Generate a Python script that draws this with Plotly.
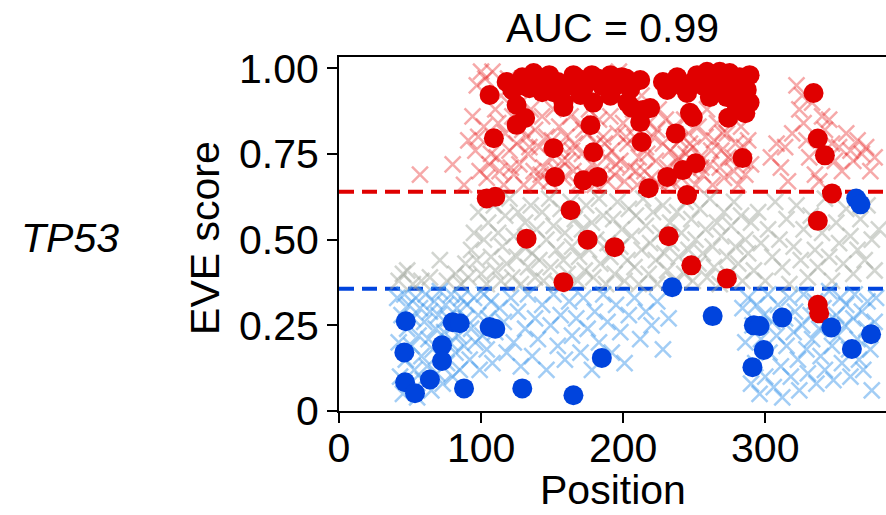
import plotly.graph_objects as go

# ---------------- data ----------------
# EVE thresholds
pathogenic_threshold = 0.64
benign_threshold = 0.357

# EVE predicted variants (crosses), pathogenic class
path_x = [57, 80, 88, 91, 94, 96, 97, 99, 100,
          102, 103, 104, 107, 108, 110, 111, 113, 114, 116, 117, 119, 120, 122, 123, 125, 127, 128, 130, 132, 133, 135, 137, 138, 140,
          141, 143, 144, 146, 148, 149, 151, 153, 155, 156, 158, 160, 161, 163, 165, 166, 168, 170, 171, 173, 175, 176, 178, 180, 181, 183, 185, 186, 188, 189,
          191, 192, 194, 196, 197, 198, 200, 201, 203, 205, 207, 208, 210, 211, 213, 215, 216, 218, 220, 221, 223, 225, 226, 228, 230, 231, 233, 235, 236, 238, 240,
          241, 243, 244, 246, 248, 249, 251, 253, 254, 256, 258, 259, 261, 263, 264, 266, 268, 269, 271, 273, 274, 276, 278, 279, 281, 283, 284, 286, 288, 290,
          304, 308, 311, 314, 316, 319, 322, 324, 326, 327, 329, 331, 333, 335, 338, 340, 342, 345, 347, 349, 352, 354, 357, 360, 362, 365, 368, 371, 374, 377,
          98, 106, 112, 121, 129, 134, 142, 150, 157, 164, 172, 179, 187, 195, 202, 209, 217, 224, 232, 239, 247, 255, 262, 270, 277, 285]
path_y = [0.69, 0.72, 0.66, 0.79, 0.86, 0.76, 0.95, 0.70, 0.99,
          0.83, 0.97, 0.68, 0.75, 0.99, 0.88, 0.74, 0.70, 0.92, 0.66, 0.81, 0.97, 0.76, 0.86, 0.69, 0.78, 0.72, 0.90, 0.66, 0.80, 0.75, 0.88, 0.70, 0.82, 0.67,
          0.77, 0.86, 0.71, 0.80, 0.67, 0.74, 0.88, 0.70, 0.83, 0.77, 0.68, 0.80, 0.73, 0.86, 0.70, 0.78, 0.66, 0.84, 0.75, 0.69, 0.81, 0.88, 0.72, 0.66, 0.78, 0.85, 0.70, 0.80, 0.74, 0.67,
          0.86, 0.76, 0.69, 0.81, 0.99, 0.73, 0.84, 0.67, 0.78, 0.71, 0.88, 0.80, 0.66, 0.74, 0.92, 0.70, 0.77, 0.84, 0.68, 0.80, 0.73, 0.88, 0.66, 0.78, 0.85, 0.71, 0.76, 0.67, 0.83, 0.73, 0.79,
          0.68, 0.85, 0.75, 0.81, 0.70, 0.77, 0.66, 0.83, 0.74, 0.69, 0.80, 0.88, 0.72, 0.66, 0.79, 0.84, 0.71, 0.76, 0.68, 0.81, 0.74, 0.88, 0.70, 0.78, 0.66, 0.83, 0.73, 0.69, 0.79, 0.72,
          0.74, 0.78, 0.71, 0.77, 0.67, 0.81, 0.95, 0.88, 0.92, 0.84, 0.79, 0.74, 0.90, 0.69, 0.67, 0.86, 0.82, 0.85, 0.78, 0.73, 0.77, 0.70, 0.81, 0.76, 0.73, 0.79, 0.75, 0.77, 0.70, 0.74,
          0.80, 0.72, 0.84, 0.71, 0.82, 0.77, 0.69, 0.79, 0.73, 0.76, 0.82, 0.68, 0.78, 0.72, 0.80, 0.70, 0.75, 0.82, 0.67, 0.74, 0.78, 0.71, 0.76, 0.81, 0.74, 0.77]

# EVE predicted variants (crosses), uncertain class
unc_x = [42, 45, 48, 52, 58, 64, 71, 76, 82, 86, 89,
         91, 93, 95, 97, 98, 100, 102, 104, 105, 107, 109, 110, 112, 114, 115, 117, 118, 120, 122, 123, 125, 126, 128, 130, 131, 133, 135, 136, 138, 139,
         141, 143, 144, 146, 148, 149, 151, 153, 154, 156, 158, 159, 161, 163, 164, 166, 168, 169, 171, 173, 174, 176, 178, 179, 181, 183, 184, 186, 188, 189,
         191, 193, 194, 196, 198, 199, 201, 203, 204, 206, 208, 209, 211, 213, 214, 216, 218, 219, 221, 223, 224, 226, 228, 229, 231, 233, 234, 236, 238, 239,
         241, 243, 244, 246, 248, 249, 251, 253, 254, 256, 258, 259, 261, 263, 264, 266, 268, 269, 271, 273, 274, 276, 278, 279, 281, 283, 284, 286, 288, 290,
         292, 295, 297, 300, 302, 305, 307, 310, 312, 315, 317, 320, 322, 325, 327, 330, 332, 335, 337, 340, 342, 345, 347, 350, 352, 355, 357, 360, 362, 365, 367, 370, 372, 375, 377, 380]
unc_y = [0.38, 0.40, 0.41, 0.37, 0.38, 0.39, 0.44, 0.38, 0.40, 0.37, 0.43,
         0.39, 0.47, 0.52, 0.44, 0.58, 0.40, 0.50, 0.37, 0.55, 0.45, 0.60, 0.41, 0.52, 0.38, 0.48, 0.57, 0.43, 0.62, 0.39, 0.51, 0.45, 0.58, 0.37, 0.48, 0.55, 0.42, 0.60, 0.46, 0.39, 0.53,
         0.44, 0.58, 0.38, 0.50, 0.62, 0.42, 0.54, 0.47, 0.37, 0.59, 0.44, 0.52, 0.40, 0.61, 0.48, 0.56, 0.38, 0.45, 0.53, 0.41, 0.60, 0.47, 0.55, 0.39, 0.50, 0.62, 0.43, 0.57, 0.37, 0.49,
         0.45, 0.56, 0.40, 0.61, 0.48, 0.53, 0.38, 0.44, 0.59, 0.51, 0.42, 0.57, 0.37, 0.47, 0.62, 0.54, 0.40, 0.49, 0.58, 0.44, 0.37, 0.52, 0.60, 0.46, 0.41, 0.55, 0.49, 0.38, 0.58, 0.45,
         0.52, 0.40, 0.61, 0.47, 0.56, 0.38, 0.50, 0.43, 0.59, 0.46, 0.53, 0.39, 0.62, 0.48, 0.42, 0.55, 0.37, 0.51, 0.58, 0.45, 0.40, 0.54, 0.61, 0.48, 0.43, 0.57, 0.38, 0.50, 0.46, 0.55,
         0.41, 0.58, 0.49, 0.38, 0.53, 0.45, 0.61, 0.50, 0.42, 0.56, 0.37, 0.48, 0.60, 0.44, 0.53, 0.39, 0.57, 0.47, 0.42, 0.52, 0.62, 0.45, 0.38, 0.55, 0.49, 0.43, 0.59, 0.51, 0.40, 0.47, 0.56, 0.44, 0.60, 0.50, 0.41, 0.53]

# EVE predicted variants (crosses), benign class
ben_x = [41, 42, 43, 44, 45, 46, 47, 48, 49, 50, 51, 52, 53, 54, 55, 56, 57, 58, 59, 60, 61, 62, 63, 64, 65, 66, 67, 68, 69, 70,
         71, 72, 73, 74, 75, 76, 77, 78, 79, 80, 81, 82, 83, 84, 85, 86, 88, 89, 90, 92, 93, 95, 96, 98, 99, 101, 102, 104, 105, 107, 108, 110,
         113, 116, 118, 121, 123, 126, 128, 131, 133, 136, 138, 140, 143, 146, 149, 151, 154, 156, 159, 162, 164, 167, 170, 172, 175, 178, 180, 183, 186, 189, 192, 195, 198, 201, 204, 208, 212, 216, 220, 224, 228, 232,
         284, 286, 288, 290, 291, 293, 294, 296, 297, 299, 300, 302, 303, 305, 306, 308, 309, 311, 312, 314, 315, 317, 318, 320, 321, 323, 324, 326, 327, 329, 330,
         332, 333, 335, 336, 338, 339, 341, 342, 344, 345, 347, 348, 350, 351, 353, 354, 356, 357, 359, 360, 362, 363, 365, 366, 368, 369, 371, 372, 374, 375, 377, 378]
ben_y = [0.33, 0.20, 0.10, 0.28, 0.05, 0.34, 0.15, 0.24, 0.31, 0.08, 0.19, 0.27, 0.12, 0.33, 0.04, 0.22, 0.30, 0.16, 0.09, 0.26, 0.34, 0.13, 0.21, 0.29, 0.06, 0.18, 0.32, 0.24, 0.11, 0.28,
         0.35, 0.17, 0.08, 0.23, 0.31, 0.14, 0.27, 0.20, 0.34, 0.10, 0.25, 0.17, 0.30, 0.22, 0.12, 0.33, 0.19, 0.27, 0.31, 0.15, 0.24, 0.33, 0.20, 0.28, 0.12, 0.22, 0.34, 0.18, 0.27, 0.32, 0.14, 0.23,
         0.30, 0.26, 0.17, 0.33, 0.20, 0.29, 0.13, 0.24, 0.34, 0.16, 0.27, 0.21, 0.31, 0.12, 0.25, 0.34, 0.19, 0.28, 0.15, 0.32, 0.22, 0.27, 0.17, 0.33, 0.24, 0.12, 0.29, 0.20, 0.34, 0.26, 0.17, 0.31, 0.23, 0.14, 0.28, 0.33, 0.21, 0.29, 0.25, 0.32, 0.18, 0.27,
         0.30, 0.20, 0.33, 0.08, 0.25, 0.14, 0.31, 0.05, 0.21, 0.28, 0.10, 0.34, 0.17, 0.26, 0.07, 0.22, 0.31, 0.13, 0.04, 0.27, 0.19, 0.33, 0.10, 0.23, 0.29, 0.15, 0.06, 0.25, 0.34, 0.18, 0.11,
         0.28, 0.21, 0.32, 0.08, 0.24, 0.16, 0.30, 0.12, 0.26, 0.35, 0.19, 0.09, 0.28, 0.22, 0.33, 0.14, 0.25, 0.31, 0.18, 0.10, 0.27, 0.34, 0.21, 0.15, 0.29, 0.12, 0.24, 0.32, 0.18, 0.06, 0.26, 0.33]

# ClinVar labelled pathogenic variants (red dots)
clin_path_x = [106, 109, 125, 125, 131, 151, 152, 104, 110, 132, 158, 177, 179, 172, 182, 163, 175, 194, 158,
               212, 219, 212, 213, 237, 218, 231, 242, 251, 245, 249, 274, 286, 284, 247,
               232, 248, 273, 334, 337, 342, 347, 337, 337, 338,
               122, 129, 137, 134, 146, 151, 154, 165, 175, 182, 158, 170, 179,
               191, 199, 191, 203, 206, 214,
               238, 252, 263, 275, 282, 287, 231, 245, 261, 273, 282, 270,
               118, 127, 140, 143, 148, 161, 168, 172, 178, 185, 195, 202, 205,
               228, 235, 241, 249, 256, 259, 266, 268, 278, 285, 289, 280, 289]
clin_path_y = [0.922, 0.796, 0.893, 0.835, 0.855, 0.767, 0.683, 0.62, 0.625, 0.503, 0.887, 0.834, 0.755, 0.673, 0.683, 0.586, 0.50, 0.478, 0.376,
               0.966, 0.884, 0.843, 0.785, 0.81, 0.65, 0.683, 0.703, 0.723, 0.63, 0.858, 0.856, 0.869, 0.738, 0.87,
               0.51, 0.425, 0.387, 0.928, 0.795, 0.746, 0.635, 0.555, 0.31, 0.285,
               0.937, 0.974, 0.986, 0.942, 0.966, 0.93, 0.96, 0.98, 0.96, 0.97, 0.90, 0.922, 0.90,
               0.98, 0.974, 0.92, 0.90, 0.885, 0.878,
               0.974, 0.98, 0.974, 0.986, 0.974, 0.937, 0.937, 0.928, 0.916, 0.916, 0.907, 0.98,
               0.96, 0.95, 0.96, 0.93, 0.98, 0.95, 0.97, 0.94, 0.98, 0.95, 0.95, 0.97, 0.94,
               0.96, 0.955, 0.95, 0.96, 0.95, 0.99, 0.95, 0.99, 0.95, 0.96, 0.98, 0.89, 0.90]

# ClinVar labelled benign variants (blue dots)
clin_ben_x = [47, 80, 85, 106, 110, 46, 72.5, 72.5, 46.5, 53.5, 64, 88, 129, 165, 185,
              234.5, 263, 292, 296, 312, 299, 291, 346.5, 361, 374.5, 364, 367]
clin_ben_y = [0.262, 0.259, 0.256, 0.245, 0.24, 0.171, 0.192, 0.146, 0.084, 0.052, 0.092, 0.066, 0.066, 0.046, 0.155,
              0.361, 0.277, 0.25, 0.248, 0.273, 0.178, 0.128, 0.244, 0.181, 0.224, 0.62, 0.603]

y_tick_vals = [0, 0.25, 0.5, 0.75, 1.0]
y_tick_text = ["0", "0.25", "0.50", "0.75", "1.00"]
x_tick_vals = [0, 100, 200, 300]
title_text = "AUC = 0.99"
gene_name = "TP53"

# ---------------- figure ----------------
FONT = "Liberation Sans, Arial, Helvetica, sans-serif"
FS = 41
RED = "#E00000"
BLUE = "#0044DD"

fig = go.Figure()

def cross_trace(xs, ys, rgba):
    return go.Scatter(
        x=xs, y=ys, mode="markers", hoverinfo="skip",
        marker=dict(symbol="x-thin", size=16, color=rgba,
                    line=dict(width=2.5, color=rgba)),
        showlegend=False,
    )

fig.add_trace(cross_trace(path_x, path_y, "rgba(232,40,40,0.40)"))
fig.add_trace(cross_trace(unc_x, unc_y, "rgba(165,172,162,0.50)"))
fig.add_trace(cross_trace(ben_x, ben_y, "rgba(70,155,235,0.50)"))

fig.add_trace(go.Scatter(x=clin_path_x, y=clin_path_y, mode="markers",
                         marker=dict(symbol="circle", size=20, color=RED, line=dict(width=0)),
                         showlegend=False))
fig.add_trace(go.Scatter(x=clin_ben_x, y=clin_ben_y, mode="markers",
                         marker=dict(symbol="circle", size=20, color=BLUE, line=dict(width=0)),
                         showlegend=False))

fig.add_shape(type="line", xref="paper", x0=0, x1=1, yref="y",
              y0=pathogenic_threshold, y1=pathogenic_threshold, layer="below",
              line=dict(color=RED, width=4, dash="15px,8px"))
fig.add_shape(type="line", xref="paper", x0=0, x1=1, yref="y",
              y0=benign_threshold, y1=benign_threshold, layer="below",
              line=dict(color=BLUE, width=4, dash="15px,8px"))

fig.update_layout(
    width=886, height=515,
    margin=dict(l=339, r=0, t=57, b=104),
    paper_bgcolor="white", plot_bgcolor="white",
    font=dict(family=FONT, color="black", size=FS),
    title=dict(text=title_text, x=0.5, xref="paper", xanchor="center",
               y=1 - 28 / 515, yref="container", yanchor="middle",
               font=dict(family=FONT, size=FS, color="black")),
    xaxis=dict(range=[0, 385], tickvals=x_tick_vals, ticks="outside", ticklen=10, tickwidth=2,
               tickcolor="black", showline=True, linewidth=2, linecolor="black", mirror=True,
               showgrid=False, zeroline=False, tickfont=dict(size=FS), ticklabelstandoff=-10),
    yaxis=dict(range=[0, 1.033], tickvals=y_tick_vals, ticktext=y_tick_text, ticks="outside",
               ticklen=10, tickwidth=2, tickcolor="black", showline=True, linewidth=2,
               linecolor="black", mirror=False, showgrid=False, zeroline=False,
               tickfont=dict(size=FS)),
    annotations=[
        dict(text="EVE score", xref="paper", yref="paper", x=(205 - 339) / 547, y=0.489,
             textangle=-90, showarrow=False, xanchor="center", yanchor="middle",
             font=dict(size=FS)),
        dict(text="Position", xref="paper", yref="paper", x=0.5, y=(411 - 515) / 354,
             showarrow=False, xanchor="center", yanchor="bottom", font=dict(size=FS)),
        dict(text="<i>" + gene_name + "</i>", xref="paper", yref="paper", x=(70 - 339) / 547, y=0.49,
             showarrow=False, xanchor="center", yanchor="middle", font=dict(size=FS)),
    ],
)

fig.write_html("out.html", config={"displayModeBar": False},
               post_script="document.body.style.margin='0px';")
